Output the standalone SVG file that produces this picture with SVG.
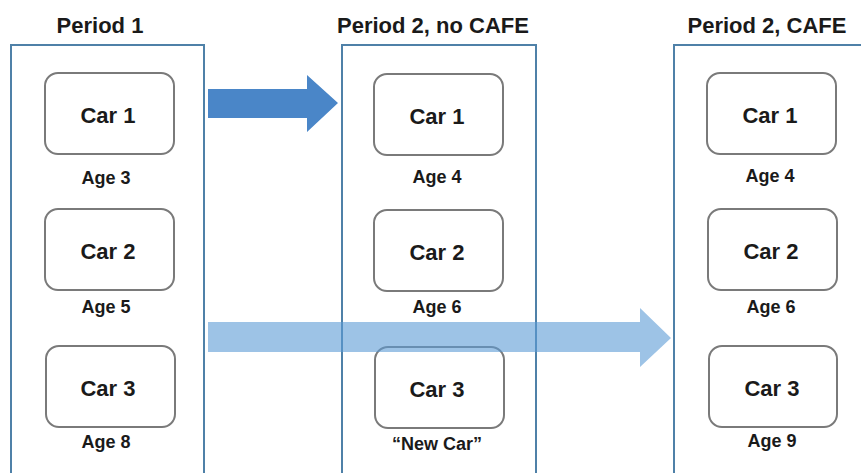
<svg xmlns="http://www.w3.org/2000/svg" width="861" height="473" viewBox="0 0 861 473">
<style>
.panel{fill:none;stroke:#4f81a8;stroke-width:2}
.car{fill:#fff;stroke:#7a7a7a;stroke-width:2}
.title{font-family:"Liberation Sans",Arial,sans-serif;font-weight:bold;font-size:22px;fill:#1a1a1a;text-anchor:middle}
.cl{font-family:"Liberation Sans",Arial,sans-serif;font-weight:bold;font-size:22px;fill:#1a1a1a;text-anchor:middle}
.age{font-family:"Liberation Sans",Arial,sans-serif;font-weight:bold;font-size:18px;fill:#1a1a1a;text-anchor:middle}
</style>
<rect width="861" height="473" fill="#fff"/>
<g id="period1">
<text class="title" x="100" y="33">Period 1</text>
<rect class="panel" x="11" y="45" width="193" height="440"/>
</g>
<g id="period2nocafe">
<text class="title" x="433" y="33">Period 2, no CAFE</text>
<rect class="panel" x="342" y="45" width="194" height="440"/>
</g>
<g id="period2cafe">
<text class="title" x="767" y="33">Period 2, CAFE</text>
<rect class="panel" x="674" y="45" width="200" height="440"/>
</g>
<g id="p1car1"><rect class="car" x="45" y="73" width="129" height="81" rx="13"/><text class="cl" x="108" y="123">Car 1</text><text class="age" x="106" y="184">Age 3</text></g>
<g id="p1car2"><rect class="car" x="45" y="209" width="129" height="81" rx="13"/><text class="cl" x="108" y="259">Car 2</text><text class="age" x="106" y="313">Age 5</text></g>
<g id="p1car3"><rect class="car" x="46" y="346" width="129" height="81" rx="13"/><text class="cl" x="108" y="396">Car 3</text><text class="age" x="106" y="448">Age 8</text></g>
<g id="p2car1"><rect class="car" x="374" y="74" width="129" height="81" rx="13"/><text class="cl" x="437" y="124">Car 1</text><text class="age" x="437" y="183">Age 4</text></g>
<g id="p2car2"><rect class="car" x="374" y="210" width="129" height="81" rx="13"/><text class="cl" x="437" y="260">Car 2</text><text class="age" x="437" y="313">Age 6</text></g>
<g id="p2car3"><rect class="car" x="375" y="347" width="129" height="81" rx="13"/><text class="cl" x="437" y="397">Car 3</text><text class="age" x="437" y="450">“New Car”</text></g>
<g id="p3car1"><rect class="car" x="707" y="73" width="129" height="81" rx="13"/><text class="cl" x="770" y="123">Car 1</text><text class="age" x="770" y="182">Age 4</text></g>
<g id="p3car2"><rect class="car" x="708" y="209" width="129" height="81" rx="13"/><text class="cl" x="771" y="259">Car 2</text><text class="age" x="771" y="313">Age 6</text></g>
<g id="p3car3"><rect class="car" x="709" y="346" width="128" height="81" rx="13"/><text class="cl" x="772" y="396">Car 3</text><text class="age" x="772" y="447">Age 9</text></g>
<g id="connectors">
<polygon points="208,89 307,89 307,75 338,103 307,132 307,118 208,118" fill="#4a86c8"/>
<polygon points="208,322 640,322 640,308 671,338 640,367 640,352 208,352" fill="#5b9bd5" fill-opacity="0.6"/>
</g>
</svg>
